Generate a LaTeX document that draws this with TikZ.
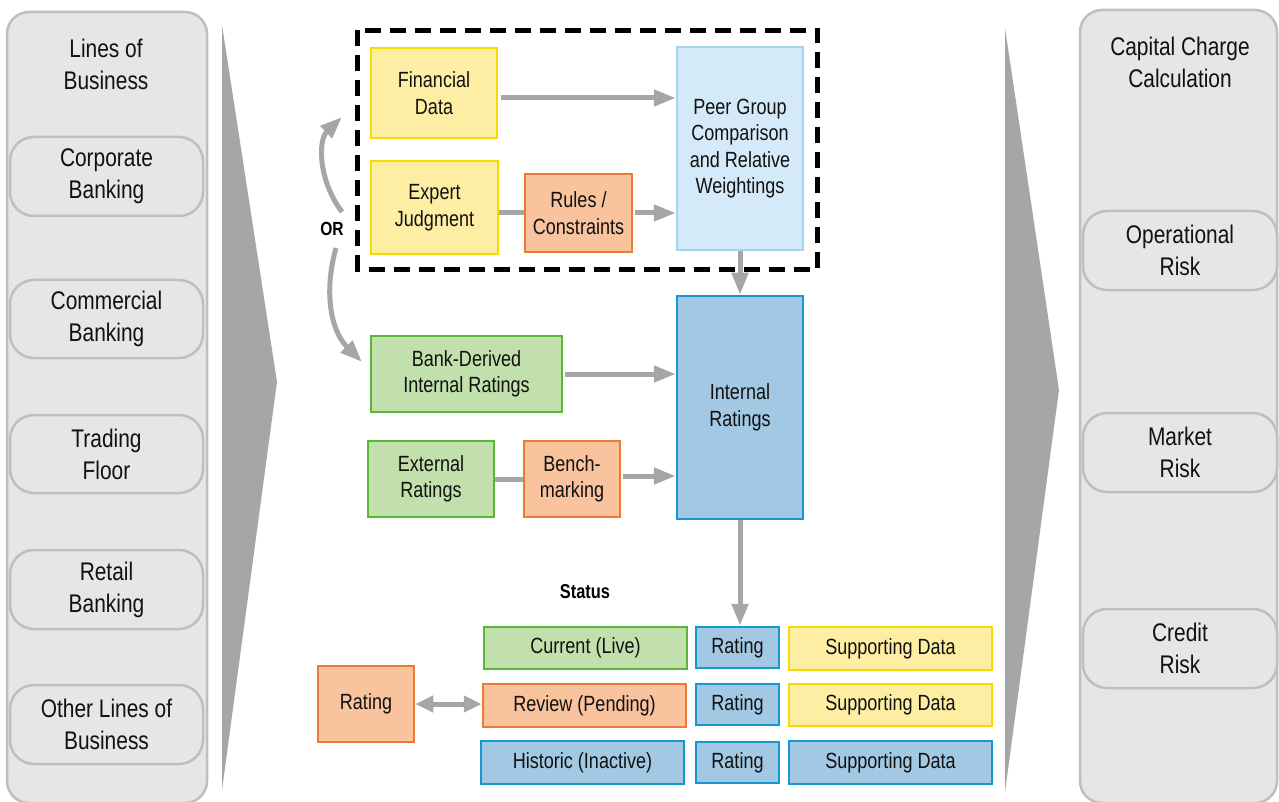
\documentclass[tikz,border=0pt]{standalone}
\usepackage{fontspec}
\setmainfont[FakeStretch=0.82]{Liberation Sans}
\usetikzlibrary{arrows.meta}
\definecolor{yfill}{HTML}{FDEEA4}
\definecolor{ydraw}{HTML}{F7DA00}
\definecolor{ofill}{HTML}{F8C39D}
\definecolor{odraw}{HTML}{EC7A35}
\definecolor{gfill}{HTML}{C1E0AB}
\definecolor{gdraw}{HTML}{58B833}
\definecolor{lbfill}{HTML}{D5EAF8}
\definecolor{lbdraw}{HTML}{A2D4F1}
\definecolor{bfill}{HTML}{A3C8E4}
\definecolor{bdraw}{HTML}{1299D3}
\definecolor{pfill}{HTML}{E6E6E6}
\definecolor{pdraw}{HTML}{BFBFBF}
\definecolor{wedgec}{HTML}{A6A6A6}
\definecolor{txt}{HTML}{111111}
\tikzset{
  box/.style={draw, line width=2.5pt, align=center, inner sep=0pt, text=txt,
    font=\fontsize{22}{26.5}\selectfont},
  ybox/.style={box, fill=yfill, draw=ydraw},
  obox/.style={box, fill=ofill, draw=odraw},
  gbox/.style={box, fill=gfill, draw=gdraw},
  lbbox/.style={box, fill=lbfill, draw=lbdraw},
  bluebox/.style={box, fill=bfill, draw=bdraw},
  pbox/.style={draw=pdraw, fill=pfill, line width=2.5pt, rounded corners=24pt,
    align=center, inner sep=0pt, text=txt, font=\fontsize{25.5}{32}\selectfont},
  ptitle/.style={align=center, text=txt, font=\fontsize{25.5}{32}\selectfont},
  arr/.style={draw=wedgec, line width=5pt, -{Triangle[length=22pt,width=16pt]}},
  darr/.style={draw=wedgec, line width=5pt, {Triangle[length=18pt,width=16pt]}-{Triangle[length=18pt,width=16pt]}},
  conn/.style={draw=wedgec, line width=5pt},
  lbl/.style={text=black, font=\bfseries\fontsize{20}{24}\selectfont}
}
\begin{document}
\begin{tikzpicture}[x=1pt,y=-1pt]
\useasboundingbox (0,0) rectangle (1279,802);
% side panels
\draw[draw=pdraw, fill=pfill, line width=2.5pt, rounded corners=22pt] (7,12) rectangle (207,803);
\draw[draw=pdraw, fill=pfill, line width=2.5pt, rounded corners=22pt] (1080,10) rectangle (1277,803);
\node[ptitle] (lobt) at (106,64) {Lines of\\Business};
\node[ptitle] (cct) at (1180,62) {Capital Charge\\Calculation};
\node[pbox, minimum width=193pt, minimum height=79pt] (corp) at (106.5,176.5) {Corporate\\Banking};
\node[pbox, minimum width=193pt, minimum height=78pt] (comm) at (106.5,319) {Commercial\\Banking};
\node[pbox, minimum width=193pt, minimum height=78pt] (trad) at (106.5,454) {Trading\\Floor};
\node[pbox, minimum width=193pt, minimum height=79pt] (ret) at (106.5,589.5) {Retail\\Banking};
\node[pbox, minimum width=193pt, minimum height=79pt] (oth) at (106.5,724.5) {Other Lines of\\Business};
\node[pbox, minimum width=194pt, minimum height=79pt] (opr) at (1180,250.5) {Operational\\Risk};
\node[pbox, minimum width=194pt, minimum height=79pt] (mkt) at (1180,452.5) {Market\\Risk};
\node[pbox, minimum width=194pt, minimum height=79pt] (crd) at (1180,648.5) {Credit\\Risk};
% wedges
\fill[wedgec] (222,25) -- (277,382) -- (222,790) -- cycle;
\fill[wedgec] (1005,28) -- (1059,390) -- (1005,792) -- cycle;
% dashed frame
\draw[black, line width=5pt, dash pattern=on 16pt off 9pt] (357.5,30.5) rectangle (817.5,269.5);
% boxes
\node[ybox, minimum width=126pt, minimum height=90pt] (fd) at (434,93) {Financial\\Data};
\node[ybox, minimum width=127pt, minimum height=93pt] (ej) at (434.5,207.5) {Expert\\Judgment};
\node[obox, minimum width=107pt, minimum height=78pt] (rc) at (578.5,213) {Rules /\\Constraints};
\node[lbbox, minimum width=126pt, minimum height=203pt] (pg) at (740,148.5) {Peer Group\\Comparison\\and Relative\\Weightings};
\node[bluebox, minimum width=126pt, minimum height=223pt] (ir) at (740,407.5) {Internal\\Ratings};
\node[gbox, minimum width=191pt, minimum height=76pt] (bdr) at (466.5,374) {Bank-Derived\\Internal Ratings};
\node[gbox, minimum width=126pt, minimum height=76pt] (ext) at (431,479) {External\\Ratings};
\node[obox, minimum width=96pt, minimum height=76pt] (bm) at (572,479) {Bench-\\marking};
% status table
\node[lbl] (status) at (585,592) {Status};
\node[gbox, minimum width=203pt, minimum height=42pt] (cur) at (585.5,648) {Current (Live)};
\node[bluebox, minimum width=83pt, minimum height=41pt] (r1) at (737.5,647.5) {Rating};
\node[ybox, minimum width=203pt, minimum height=43pt] (s1) at (890.5,648.5) {Supporting Data};
\node[obox, minimum width=203pt, minimum height=43pt] (rev) at (584.5,705.5) {Review (Pending)};
\node[bluebox, minimum width=83pt, minimum height=41pt] (r2) at (737.5,704.5) {Rating};
\node[ybox, minimum width=203pt, minimum height=42pt] (s2) at (890.5,705) {Supporting Data};
\node[bluebox, minimum width=203pt, minimum height=43pt] (his) at (582.5,762.5) {Historic (Inactive)};
\node[bluebox, minimum width=83pt, minimum height=41pt] (r3) at (737.5,762.5) {Rating};
\node[bluebox, minimum width=203pt, minimum height=43pt] (s3) at (890.5,762.5) {Supporting Data};
\node[obox, minimum width=96pt, minimum height=76pt] (rl) at (366,704) {Rating};
% OR
\node[lbl, font=\bfseries\fontsize{19}{22}\selectfont] (or) at (332,229) {OR};
\coordinate (orupS) at (342,212);
\coordinate (orup) at (342,117);
\coordinate (ordnS) at (336,248);
\coordinate (ordn) at (362,362);
% connectors
\draw[arr] ([xshift=3pt,yshift=-5pt]fd.east) -- ([yshift=-5pt]fd.east -| pg.west);
\draw[conn] ([yshift=-5pt]ej.east) -- ([yshift=-5pt]ej.east -| rc.west);
\draw[arr] ([xshift=2pt]rc.east) -- (rc.east -| pg.west);
\draw[arr] (pg.south) -- (ir.north);
\draw[arr] ([xshift=2pt]bdr.east) -- (bdr.east -| ir.west);
\draw[conn] (ext.east) -- (bm.west);
\draw[arr] ([xshift=2pt,yshift=3pt]bm.east) -- ([yshift=3pt]bm.east -| ir.west);
\draw[arr] (ir.south) -- (ir.south |- r1.north);
\draw[darr] (rl.east) -- (rl.east -| rev.west);
\draw[arr] (orupS) .. controls (318,180) and (318,140) .. (orup);
\draw[arr] (ordnS) .. controls (324,290) and (330,330) .. (ordn);
\end{tikzpicture}
\end{document}
